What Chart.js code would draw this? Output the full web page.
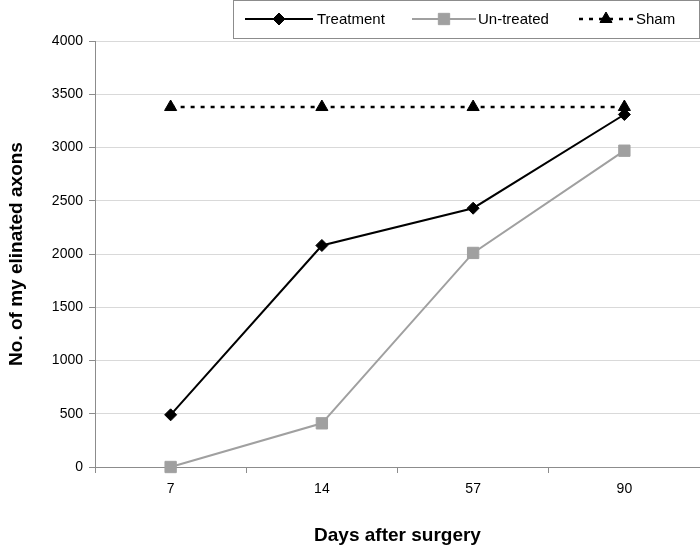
<!DOCTYPE html>
<html>
<head>
<meta charset="utf-8">
<script src="https://cdn.jsdelivr.net/npm/chart.js@4"></script>
<style>
  html, body { margin: 0; padding: 0; background: #fff; }
  #wrap { width: 700px; height: 547px; }
</style>
</head>
<body>
<div id="wrap"><canvas id="chart" width="700" height="547"></canvas></div>
<script>
// days after surgery
const days = ['7', '14', '57', '90'];
const treatment = [490, 2080, 2430, 3310];
const untreated = [0, 410, 2010, 2970];
const sham = [3380, 3380, 3380, 3380];
const yTicks = [0, 500, 1000, 1500, 2000, 2500, 3000, 3500, 4000];

const FONT = "'Liberation Sans', Arial, sans-serif";
const lineColors = ['#000', '#a0a0a0', '#000'];

// boxed legend like the original: line + marker + label
const boxLegend = {
  id: 'boxLegend',
  afterDraw(chart) {
    const ctx = chart.ctx;
    ctx.save();
    ctx.strokeStyle = '#8c8c8c';
    ctx.lineWidth = 1;
    ctx.fillStyle = '#fff';
    ctx.fillRect(233.5, 0.5, 466, 38);
    ctx.strokeRect(233.5, 0.5, 466, 38);
    const items = [
      { x1: 245, x2: 313, text: 317 },
      { x1: 412, x2: 476, text: 478 },
      { x1: 579, x2: 633, text: 636 }
    ];
    const y = 19;
    items.forEach((it, i) => {
      const ds = chart.data.datasets[i];
      ctx.strokeStyle = lineColors[i];
      ctx.fillStyle = lineColors[i];
      ctx.lineWidth = ds.borderWidth;
      ctx.setLineDash(ds.borderDash || []);
      ctx.beginPath();
      ctx.moveTo(it.x1, y);
      ctx.lineTo(it.x2, y);
      ctx.stroke();
      ctx.setLineDash([]);
      ctx.lineWidth = 1;
      Chart.helpers.drawPoint(ctx, {
        pointStyle: ds.pointStyle, radius: ds.pointRadius, borderWidth: 1, rotation: 0
      }, (it.x1 + it.x2) / 2, y);
      ctx.fillStyle = '#000';
      ctx.font = '15px ' + FONT;
      ctx.textBaseline = 'middle';
      ctx.textAlign = 'left';
      ctx.fillText(ds.label, it.text, y + 1);
    });
    ctx.restore();
  }
};

new Chart(document.getElementById('chart'), {
  type: 'line',
  data: {
    labels: days,
    datasets: [
      {
        label: 'Treatment', data: treatment, clip: false,
        borderColor: lineColors[0], borderWidth: 2,
        pointStyle: 'rectRot', pointRadius: 6, pointBorderWidth: 1,
        pointBackgroundColor: lineColors[0], pointBorderColor: lineColors[0]
      },
      {
        label: 'Un-treated', data: untreated, clip: false,
        borderColor: lineColors[1], borderWidth: 2,
        pointStyle: 'rect', pointRadius: 8, pointBorderWidth: 1,
        pointBackgroundColor: lineColors[1], pointBorderColor: lineColors[1]
      },
      {
        label: 'Sham', data: sham, clip: false,
        borderColor: lineColors[2], borderWidth: 2.5,
        borderDash: [4, 6],
        pointStyle: 'triangle', pointRadius: 7, pointBorderWidth: 1,
        pointBackgroundColor: lineColors[2], pointBorderColor: lineColors[2]
      }
    ]
  },
  options: {
    responsive: false,
    animation: false,
    layout: { autoPadding: false, padding: { top: 41, right: 0, left: 0, bottom: 0 } },
    plugins: {
      legend: { display: false },
      tooltip: { enabled: false }
    },
    scales: {
      x: {
        offset: true,
        afterFit(axis) { axis.height = 80; axis.paddingLeft = 0; axis.paddingRight = 0; },
        grid: { offset: true, drawOnChartArea: false, drawTicks: true, tickLength: 6, color: '#8c8c8c' },
        border: { color: '#8c8c8c' },
        ticks: { color: '#000', font: { family: FONT, size: 14 }, padding: 8 },
        title: {
          display: true, text: 'Days after surgery', color: '#000',
          font: { family: FONT, size: 19, weight: 'bold' }, padding: { top: 26, bottom: 0 }
        }
      },
      y: {
        min: 0, max: 4000,
        afterBuildTicks(axis) { axis.ticks = yTicks.map(v => ({ value: v })); },
        afterFit(axis) { axis.width = 95; axis.paddingTop = 0; axis.paddingBottom = 0; },
        grid: { color: '#d9d9d9', tickLength: 6, tickColor: '#8c8c8c' },
        border: { color: '#8c8c8c' },
        ticks: { color: '#000', font: { family: FONT, size: 14 }, padding: 6, callback: v => String(v) },
        title: {
          display: true, text: 'No. of my elinated axons', color: '#000',
          font: { family: FONT, size: 19, weight: 'bold' }, padding: { top: 5, bottom: 10 }
        }
      }
    }
  },
  plugins: [boxLegend]
});
</script>
</body>
</html>
